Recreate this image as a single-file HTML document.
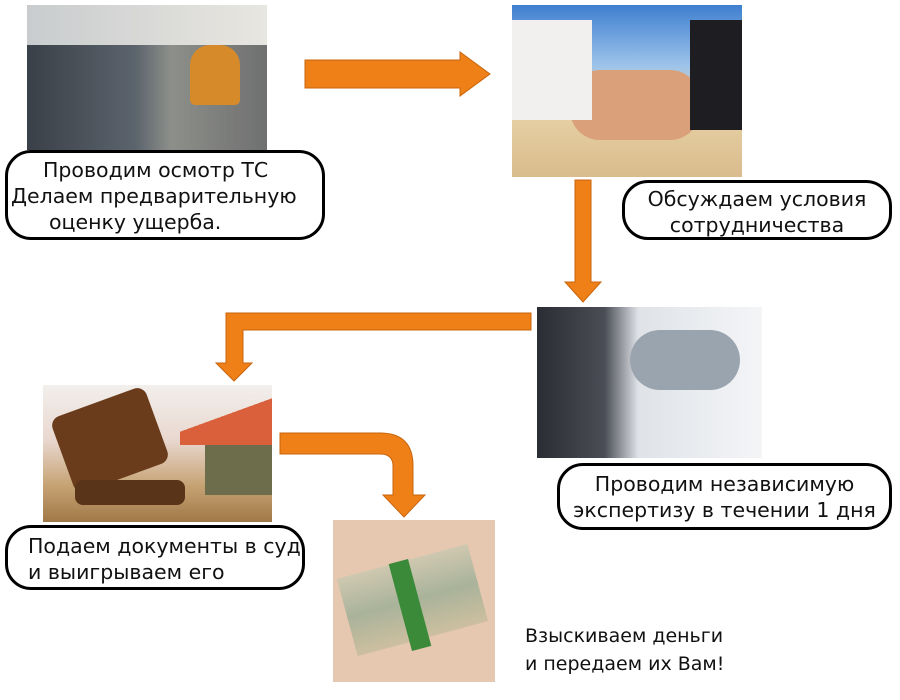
<!DOCTYPE html>
<html><head><meta charset="utf-8"><style>
body{margin:0;width:900px;height:700px;background:#fff;position:relative;overflow:hidden;font-family:"DejaVu Sans","Liberation Sans",sans-serif;}
.p{position:absolute}
.box{position:absolute;border:3px solid #000;border-radius:26px;background:#fff;box-sizing:border-box;font-size:20.5px;line-height:26px;color:#111;text-align:center;white-space:nowrap}
</style></head><body>
<div class="p" style="left:27px;top:5px;width:240px;height:145px;background:linear-gradient(90deg,#3a4048 0%,#5b636c 45%,#8d8f8a 60%,#6f7070 100%)"></div>
<div class="p" style="left:27px;top:5px;width:240px;height:40px;background:linear-gradient(90deg,#c9ccce,#e8e6e0)"></div>
<div class="p" style="left:190px;top:45px;width:50px;height:60px;background:#d68a2a;border-radius:20px 20px 5px 5px"></div>
<div class="p" style="left:512px;top:5px;width:230px;height:172px;background:linear-gradient(180deg,#3f7fd0 0%,#9cc3ea 35%,#e8d3a8 60%,#d9bb8c 100%)"></div>
<div class="p" style="left:570px;top:70px;width:130px;height:70px;background:#d9a07a;border-radius:30px"></div>
<div class="p" style="left:690px;top:20px;width:52px;height:110px;background:#1d1d22"></div>
<div class="p" style="left:512px;top:20px;width:80px;height:100px;background:#f2f0ee"></div>
<div class="p" style="left:537px;top:307px;width:225px;height:151px;background:linear-gradient(90deg,#2a2d33 0%,#4a4d55 30%,#dfe3e8 45%,#f4f5f7 100%)"></div>
<div class="p" style="left:630px;top:330px;width:110px;height:60px;background:#9aa4ae;border-radius:30px"></div>
<div class="p" style="left:43px;top:385px;width:229px;height:137px;background:linear-gradient(180deg,#f2efec 0%,#e9d8cf 40%,#c4a070 75%,#a07848 100%)"></div>
<div class="p" style="left:180px;top:385px;width:92px;height:60px;background:linear-gradient(160deg,transparent 50%,#d9603a 50%)"></div>
<div class="p" style="left:205px;top:445px;width:67px;height:50px;background:#6d6d4c"></div>
<div class="p" style="left:60px;top:400px;width:100px;height:80px;background:#6a3c1c;border-radius:10px;transform:rotate(-20deg)"></div>
<div class="p" style="left:75px;top:480px;width:110px;height:25px;background:#5a3418;border-radius:8px"></div>
<div class="p" style="left:333px;top:520px;width:162px;height:162px;background:#e6c7b0"></div>
<div class="p" style="left:345px;top:560px;width:135px;height:80px;background:linear-gradient(180deg,#cfc8b0,#a9b39a 50%,#cdbfa0);transform:rotate(-15deg)"></div>
<div class="p" style="left:400px;top:560px;width:20px;height:90px;background:#3a8a3a;transform:rotate(-15deg)"></div>

<svg class="p" style="left:0;top:0" width="900" height="700">
<g fill="#ee8017" stroke="#c8650e" stroke-width="1">
<polygon points="305,60 460,60 460,52 490,74 460,96 460,88 305,88"/>
<polygon points="575,180 591,180 591,282 601,282 583,302 565,282 575,282"/>
<polygon points="531,313 531,330 243,330 243,363 252,363 234,381 216,363 226,363 226,313"/>
<path d="M280,433 L380,433 Q413,433 413,466 L413,495 L425,495 L404,517 L383,495 L393,495 L393,466 Q393,454 380,454 L280,454 Z"/>
</g>
</svg>

<div class="box" style="left:5px;top:150px;width:320px;height:90px;padding-top:4px;text-align:left">
<div style="margin-left:35px">Проводим осмотр ТС</div>
<div style="margin-left:3px">Делаем предварительную</div>
<div style="margin-left:41px">оценку ущерба.</div></div>
<div class="box" style="left:622px;top:180px;width:270px;height:60px;padding-top:3px">Обсуждаем условия<br>сотрудничества</div>
<div class="box" style="left:557px;top:463px;width:335px;height:67px;padding-top:5px">Проводим независимую<br>экспертизу в течении 1 дня</div>
<div class="box" style="left:5px;top:525px;width:300px;height:65px;padding-top:5px;text-align:left"><div style="margin-left:20px">Подаем документы в суд</div><div style="margin-left:20px">и выигрываем его</div></div>
<div class="p" style="left:525px;top:622px;font-size:19px;line-height:28px;color:#111">Взыскиваем деньги<br>и передаем их Вам!</div>
</body></html>
